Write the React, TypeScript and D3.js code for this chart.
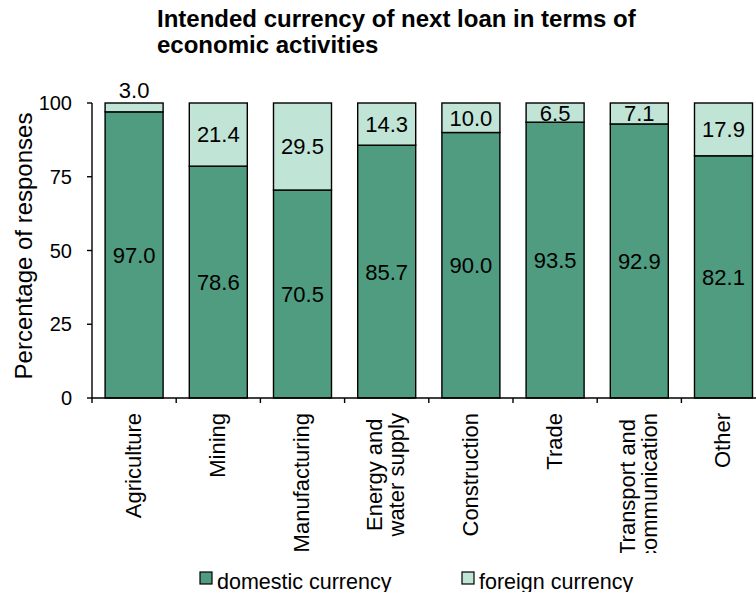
import React, { useEffect, useRef } from "react";
import * as d3 from "d3";

const categories: string[][] = [
  ["Agriculture"],
  ["Mining"],
  ["Manufacturing"],
  ["Energy and", "water supply"],
  ["Construction"],
  ["Trade"],
  ["Transport and", "communication"],
  ["Other"],
];
const domestic = [97.0, 78.6, 70.5, 85.7, 90.0, 93.5, 92.9, 82.1];
const foreign = [3.0, 21.4, 29.5, 14.3, 10.0, 6.5, 7.1, 17.9];
const yTicks = [0, 25, 50, 75, 100];
const seriesNames = ["domestic currency", "foreign currency"];
const titleLines = ["Intended currency of next loan in terms of", "economic activities"];

const W = 756;
const H = 592;
const FONT = "'Liberation Sans', Arial, sans-serif";
const DARK = "#4f9c80";
const LIGHT = "#c0e4d5";

export default function App() {
  const ref = useRef<SVGSVGElement | null>(null);

  useEffect(() => {
    const svg = d3.select(ref.current);
    svg.selectAll("*").remove();

    const x0 = 92;
    const step = 84.2;
    const x = d3
      .scaleBand<number>()
      .domain(d3.range(categories.length))
      .range([x0, x0 + step * categories.length])
      .paddingInner(0.311)
      .paddingOuter(0.1555);
    const y = d3.scaleLinear().domain([0, 100]).range([398, 103]);

    // Title
    const title = svg
      .append("text")
      .attr("font-family", FONT)
      .attr("font-weight", "bold")
      .attr("font-size", 24)
      .attr("fill", "#000");
    titleLines.forEach((t, i) => {
      title.append("tspan").attr("x", 157).attr("y", 26.5 + i * 26.5).text(t);
    });

    // Bars
    const g = svg.append("g");
    categories.forEach((_, i) => {
      const bx = x(i)!;
      const bw = x.bandwidth();
      const d = domestic[i];
      const f = foreign[i];
      g.append("rect")
        .attr("x", bx)
        .attr("y", y(d))
        .attr("width", bw)
        .attr("height", y(0) - y(d))
        .attr("fill", DARK)
        .attr("stroke", "#000")
        .attr("stroke-width", 1.4);
      g.append("rect")
        .attr("x", bx)
        .attr("y", y(d + f))
        .attr("width", bw)
        .attr("height", y(d) - y(d + f))
        .attr("fill", LIGHT)
        .attr("stroke", "#000")
        .attr("stroke-width", 1.4);
    });

    // Data labels
    const lab = svg
      .append("g")
      .attr("font-family", FONT)
      .attr("font-size", 22)
      .attr("text-anchor", "middle")
      .attr("fill", "#000");
    categories.forEach((_, i) => {
      const cx = x(i)! + x.bandwidth() / 2;
      const d = domestic[i];
      const f = foreign[i];
      lab
        .append("text")
        .attr("x", cx)
        .attr("y", y(d / 2))
        .attr("dy", "0.36em")
        .text(d.toFixed(1));
      const fy = f < 5 ? y(d + f) - 13 : y(d + f / 2);
      lab
        .append("text")
        .attr("x", cx)
        .attr("y", fy)
        .attr("dy", "0.36em")
        .text(f.toFixed(1));
    });

    // Axes
    const axes = svg.append("g").attr("stroke", "#000").attr("stroke-width", 1.4);
    axes.append("line").attr("x1", x0).attr("x2", x0).attr("y1", y(100)).attr("y2", y(0));
    axes
      .append("line")
      .attr("x1", x0)
      .attr("x2", x0 + step * categories.length)
      .attr("y1", y(0))
      .attr("y2", y(0));
    yTicks.forEach((t) => {
      axes.append("line").attr("x1", x0 - 5).attr("x2", x0).attr("y1", y(t)).attr("y2", y(t));
    });
    d3.range(categories.length + 1).forEach((i) => {
      const tx = x0 + i * step;
      axes.append("line").attr("x1", tx).attr("x2", tx).attr("y1", y(0)).attr("y2", y(0) + 5);
    });

    const yl = svg
      .append("g")
      .attr("font-family", FONT)
      .attr("font-size", 20)
      .attr("text-anchor", "end");
    yTicks.forEach((t) => {
      yl.append("text").attr("x", 72).attr("y", y(t)).attr("dy", "0.36em").text(String(t));
    });

    // Y title
    svg
      .append("text")
      .attr("font-family", FONT)
      .attr("font-size", 24)
      .attr("text-anchor", "middle")
      .attr("transform", `translate(32,246) rotate(-90)`)
      .text("Percentage of responses");

    // Category labels
    svg
      .append("clipPath")
      .attr("id", "catclip")
      .append("rect")
      .attr("x", 0)
      .attr("y", 400)
      .attr("width", W)
      .attr("height", 153);
    const cl = svg
      .append("g")
      .attr("clip-path", "url(#catclip)")
      .attr("font-family", FONT)
      .attr("font-size", 22);
    const top = 413;
    const lh = 22;
    categories.forEach((lines, i) => {
      const cx = x(i)! + x.bandwidth() / 2;
      const t = cl.append("text").attr("text-anchor", "middle");
      const tspans = lines.map((ln) => t.append("tspan").text(ln));
      const lens = tspans.map((s) => (s.node() as SVGTSpanElement).getComputedTextLength());
      const maxLen = Math.max(...lens);
      const cy = top + maxLen / 2;
      const n = lines.length;
      t.attr("transform", `translate(${cx},${cy}) rotate(-90)`);
      tspans.forEach((s, k) => {
        s.attr("x", 0).attr("y", (k - (n - 1) / 2) * lh).attr("dy", "0.3em");
      });
    });

    // Legend
    const leg = svg.append("g").attr("font-family", FONT).attr("font-size", 21.5);
    const lx = [200, 462];
    [DARK, LIGHT].forEach((c, k) => {
      leg
        .append("rect")
        .attr("x", lx[k])
        .attr("y", 572)
        .attr("width", 12)
        .attr("height", 12)
        .attr("fill", c)
        .attr("stroke", "#000")
        .attr("stroke-width", 1.2);
      leg
        .append("text")
        .attr("x", lx[k] + 17)
        .attr("y", 588.5)
        .text(seriesNames[k]);
    });
  }, []);

  return (
    <svg
      ref={ref}
      width={W}
      height={H}
      style={{ position: "absolute", left: 0, top: 0, background: "#fff" }}
    />
  );
}
